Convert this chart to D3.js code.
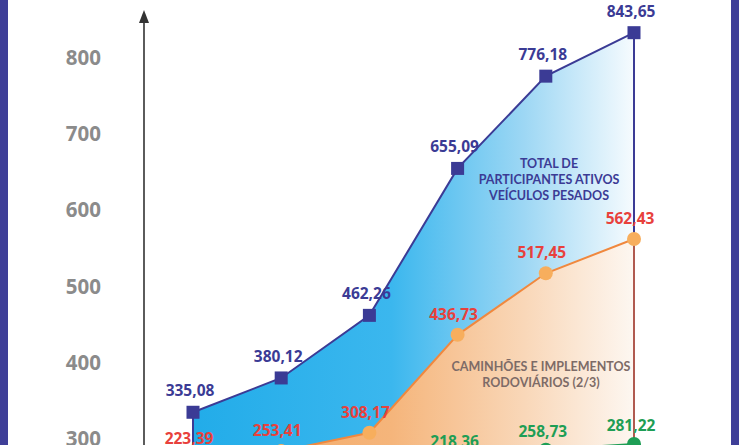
<!DOCTYPE html>
<html>
<head>
<meta charset="utf-8">
<script src="https://cdn.jsdelivr.net/npm/d3@7"></script>
<style>
  html, body { margin: 0; padding: 0; background: #ffffff; overflow: hidden; }
  svg { display: block; }
</style>
</head>
<body>
<svg id="chart" width="739" height="445"></svg>
<script>
// ---- data ----
const categories = ["1", "2", "3", "4", "5", "6"];
const totalValues = [335.08, 380.12, 462.26, 655.09, 776.18, 843.65];
const truckValues = [223.39, 253.41, 308.17, 436.73, 517.45, 562.43];
const otherValues = [111.69, 126.71, 154.09, 218.36, 258.73, 281.22];
const yTicks = [300, 400, 500, 600, 700, 800];
const totalLabel = ["TOTAL DE", "PARTICIPANTES ATIVOS", "VEÍCULOS PESADOS"];
const truckLabel = ["CAMINHÕES E IMPLEMENTOS", "RODOVIÁRIOS (2/3)"];

const W = 739, H = 445;
const svg = d3.select("#chart");
const fmt = d3.formatLocale({decimal: ",", thousands: ".", grouping: [3], currency: ["", ""]}).format(".2f");

const x = d3.scalePoint().domain(categories).range([193, 634]);
const y = d3.scaleLinear().domain([250, 300, 800, 850]).range([452, 439, 58, 29]);

const defs = svg.append("defs");
function grad(id, stops) {
  const g = defs.append("linearGradient").attr("id", id)
    .attr("gradientUnits", "userSpaceOnUse")
    .attr("x1", x(categories[0])).attr("x2", x(categories[categories.length - 1]))
    .attr("y1", 0).attr("y2", 0);
  stops.forEach(s => g.append("stop").attr("offset", s[0]).attr("stop-color", s[1]));
}
grad("gBlue", [[0, "#22ace9"], [0.45, "#3bb7ee"], [0.75, "#9dd7f4"], [1, "#f6fbfe"]]);
grad("gOrange", [[0, "#f2a660"], [0.45, "#f5b57b"], [0.75, "#f9d7b8"], [1, "#fdf7f1"]]);
grad("gGreen", [[0, "#2aa35a"], [1, "#e6f5ec"]]);

const idx = d3.range(categories.length);
const area = (top, bottom) => d3.area()
  .x(i => x(categories[i])).y0(i => y(bottom[i])).y1(i => y(top[i]))(idx);

// areas
const zeros = idx.map(() => 0);
svg.append("path").attr("d", area(totalValues, truckValues)).attr("fill", "url(#gBlue)");
svg.append("path").attr("d", area(truckValues, otherValues)).attr("fill", "url(#gOrange)");
svg.append("path").attr("d", area(otherValues, zeros)).attr("fill", "url(#gGreen)");

const last = categories.length - 1;
const xL = x(categories[last]), x0 = x(categories[0]);

// edges
svg.append("line").attr("x1", x0).attr("x2", x0).attr("y1", y(totalValues[0])).attr("y2", y(truckValues[0]))
  .attr("stroke", "#3b3b95").attr("stroke-width", 2);
svg.append("line").attr("x1", xL).attr("x2", xL).attr("y1", y(totalValues[last])).attr("y2", y(truckValues[last]))
  .attr("stroke", "#3b3b95").attr("stroke-width", 2);
svg.append("line").attr("x1", xL).attr("x2", xL).attr("y1", y(truckValues[last])).attr("y2", y(otherValues[last]))
  .attr("stroke", "#b05a50").attr("stroke-width", 2);

// lines
const line = vals => d3.line().x(i => x(categories[i])).y(i => y(vals[i]))(idx);
svg.append("path").attr("d", line(otherValues)).attr("fill", "none").attr("stroke", "#1e9e55").attr("stroke-width", 2);
svg.append("path").attr("d", line(truckValues)).attr("fill", "none").attr("stroke", "#f0883e").attr("stroke-width", 2);
svg.append("path").attr("d", line(totalValues)).attr("fill", "none").attr("stroke", "#3b3b95").attr("stroke-width", 2);

// markers
svg.selectAll(".sq").data(idx).enter().append("rect")
  .attr("x", i => x(categories[i]) - 6.5).attr("y", i => y(totalValues[i]) - 6.5)
  .attr("width", 13).attr("height", 13).attr("fill", "#3b3b95");
svg.selectAll(".oc").data(idx).enter().append("circle")
  .attr("cx", i => x(categories[i])).attr("cy", i => y(truckValues[i])).attr("r", 7).attr("fill", "#f7ae5d");
svg.selectAll(".gc").data(idx).enter().append("circle")
  .attr("cx", i => x(categories[i])).attr("cy", i => y(otherValues[i])).attr("r", 7).attr("fill", "#1e9e55");

// value labels
const lblFont = "'Open Sans', sans-serif";
function labels(vals, color, dx, dy) {
  svg.append("g").selectAll("text").data(idx).enter().append("text")
    .attr("x", i => x(categories[i]) + dx).attr("y", i => y(vals[i]) + dy)
    .attr("text-anchor", "middle").attr("font-family", lblFont).attr("font-weight", 700)
    .attr("font-size", 15.5).attr("fill", color).text(i => fmt(vals[i]));
}
labels(totalValues, "#3b3b95", -3, -16);
labels(truckValues, "#e8413c", -4, -15);
labels(otherValues, "#1e9e55", -3, -13);

// annotations
const ann1 = svg.append("text").attr("text-anchor", "middle").attr("font-family", "Lato, sans-serif")
  .attr("font-weight", 700).attr("font-size", 12.5).attr("fill", "#3b3b95");
totalLabel.forEach((t, k) => ann1.append("tspan").attr("x", 549).attr("y", 168 + k * 16).text(t));
const ann2 = svg.append("text").attr("text-anchor", "middle").attr("font-family", "Lato, sans-serif")
  .attr("font-weight", 700).attr("font-size", 12.5).attr("fill", "#7d6b67");
truckLabel.forEach((t, k) => ann2.append("tspan").attr("x", 541).attr("y", 371 + k * 16).text(t));

// y axis
const axis = svg.append("g").attr("transform", "translate(101,0)")
  .call(d3.axisLeft(y).tickValues(yTicks).tickSize(0).tickPadding(0).tickFormat(d3.format("d")));
axis.select(".domain").remove();
axis.selectAll("text").attr("font-family", "'Open Sans', sans-serif").attr("font-weight", 700)
  .attr("font-size", 20.5).attr("fill", "#8b8b8b").attr("dy", "0.32em");

svg.append("line").attr("x1", 144).attr("x2", 144).attr("y1", 20).attr("y2", H)
  .attr("stroke", "#333333").attr("stroke-width", 1.6);
svg.append("path").attr("d", "M144,10 L149,23 L139,23 Z").attr("fill", "#333333");

// side borders
svg.append("rect").attr("x", 0).attr("y", 0).attr("width", 8).attr("height", H).attr("fill", "#3f3f98");
svg.append("rect").attr("x", 731).attr("y", 0).attr("width", 8).attr("height", H).attr("fill", "#3f3f98");
</script>
</body>
</html>
